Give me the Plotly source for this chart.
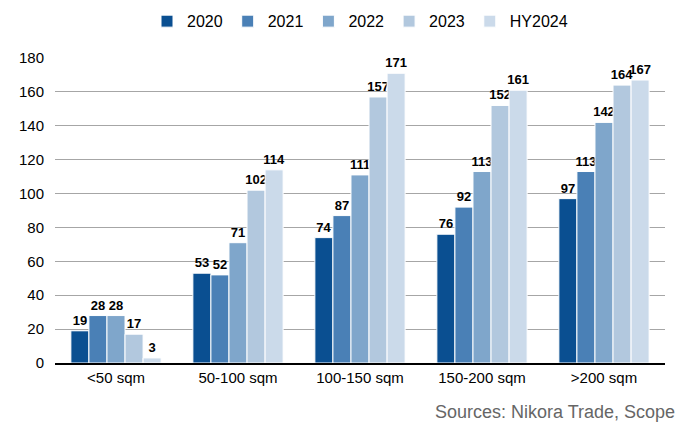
import plotly.graph_objects as go

categories = ["<50 sqm", "50-100 sqm", "100-150 sqm", "150-200 sqm", ">200 sqm"]
series_names = ["2020", "2021", "2022", "2023", "HY2024"]
v2020 = [19, 53, 74, 76, 97]
v2021 = [28, 52, 87, 92, 113]
v2022 = [28, 71, 111, 113, 142]
v2023 = [17, 102, 157, 152, 164]
vHY2024 = [3, 114, 171, 161, 167]
values = [v2020, v2021, v2022, v2023, vHY2024]
colors = ["#0a4f91", "#4a80b6", "#7fa6cb", "#b2c8de", "#cbdaea"]
y_ticks = [0, 20, 40, 60, 80, 100, 120, 140, 160, 180]

fig = go.Figure()
for name, vals, col in zip(series_names, values, colors):
    fig.add_trace(go.Bar(
        name=name, x=categories, y=vals,
        marker=dict(color=col, line=dict(color="white", width=1)),
        text=[str(v) for v in vals], textposition="outside",
        constraintext="none",
        textfont=dict(family="Liberation Sans, Arial", size=13, color="black", weight="bold"),
        cliponaxis=False,
    ))

fig.update_layout(
    width=680, height=425,
    margin=dict(l=55, r=15, t=58, b=62),
    paper_bgcolor="white", plot_bgcolor="white",
    barmode="group", bargap=0.26, bargroupgap=0,
    font=dict(family="Liberation Sans, Arial", size=15, color="black"),
    legend=dict(orientation="h", x=0.5, xanchor="center", y=0.99, yanchor="top",
                yref="container", font=dict(size=16), itemwidth=30,
                traceorder="normal"),
    xaxis=dict(showline=True, linecolor="black", linewidth=2, ticks="",
               tickfont=dict(size=15)),
    yaxis=dict(range=[0, 180], tickvals=y_ticks, showgrid=True, gridcolor="#a6a6a6",
               gridwidth=1, zeroline=False, ticks="", tickfont=dict(size=15),
               ticklabelstandoff=10),
)

fig.add_annotation(text="Sources: Nikora Trade, Scope", xref="paper", yref="paper",
                   x=1.02, y=-0.16, xanchor="right", yanchor="middle", showarrow=False,
                   font=dict(size=18, color="#666666"))

fig.write_html("out.html")
